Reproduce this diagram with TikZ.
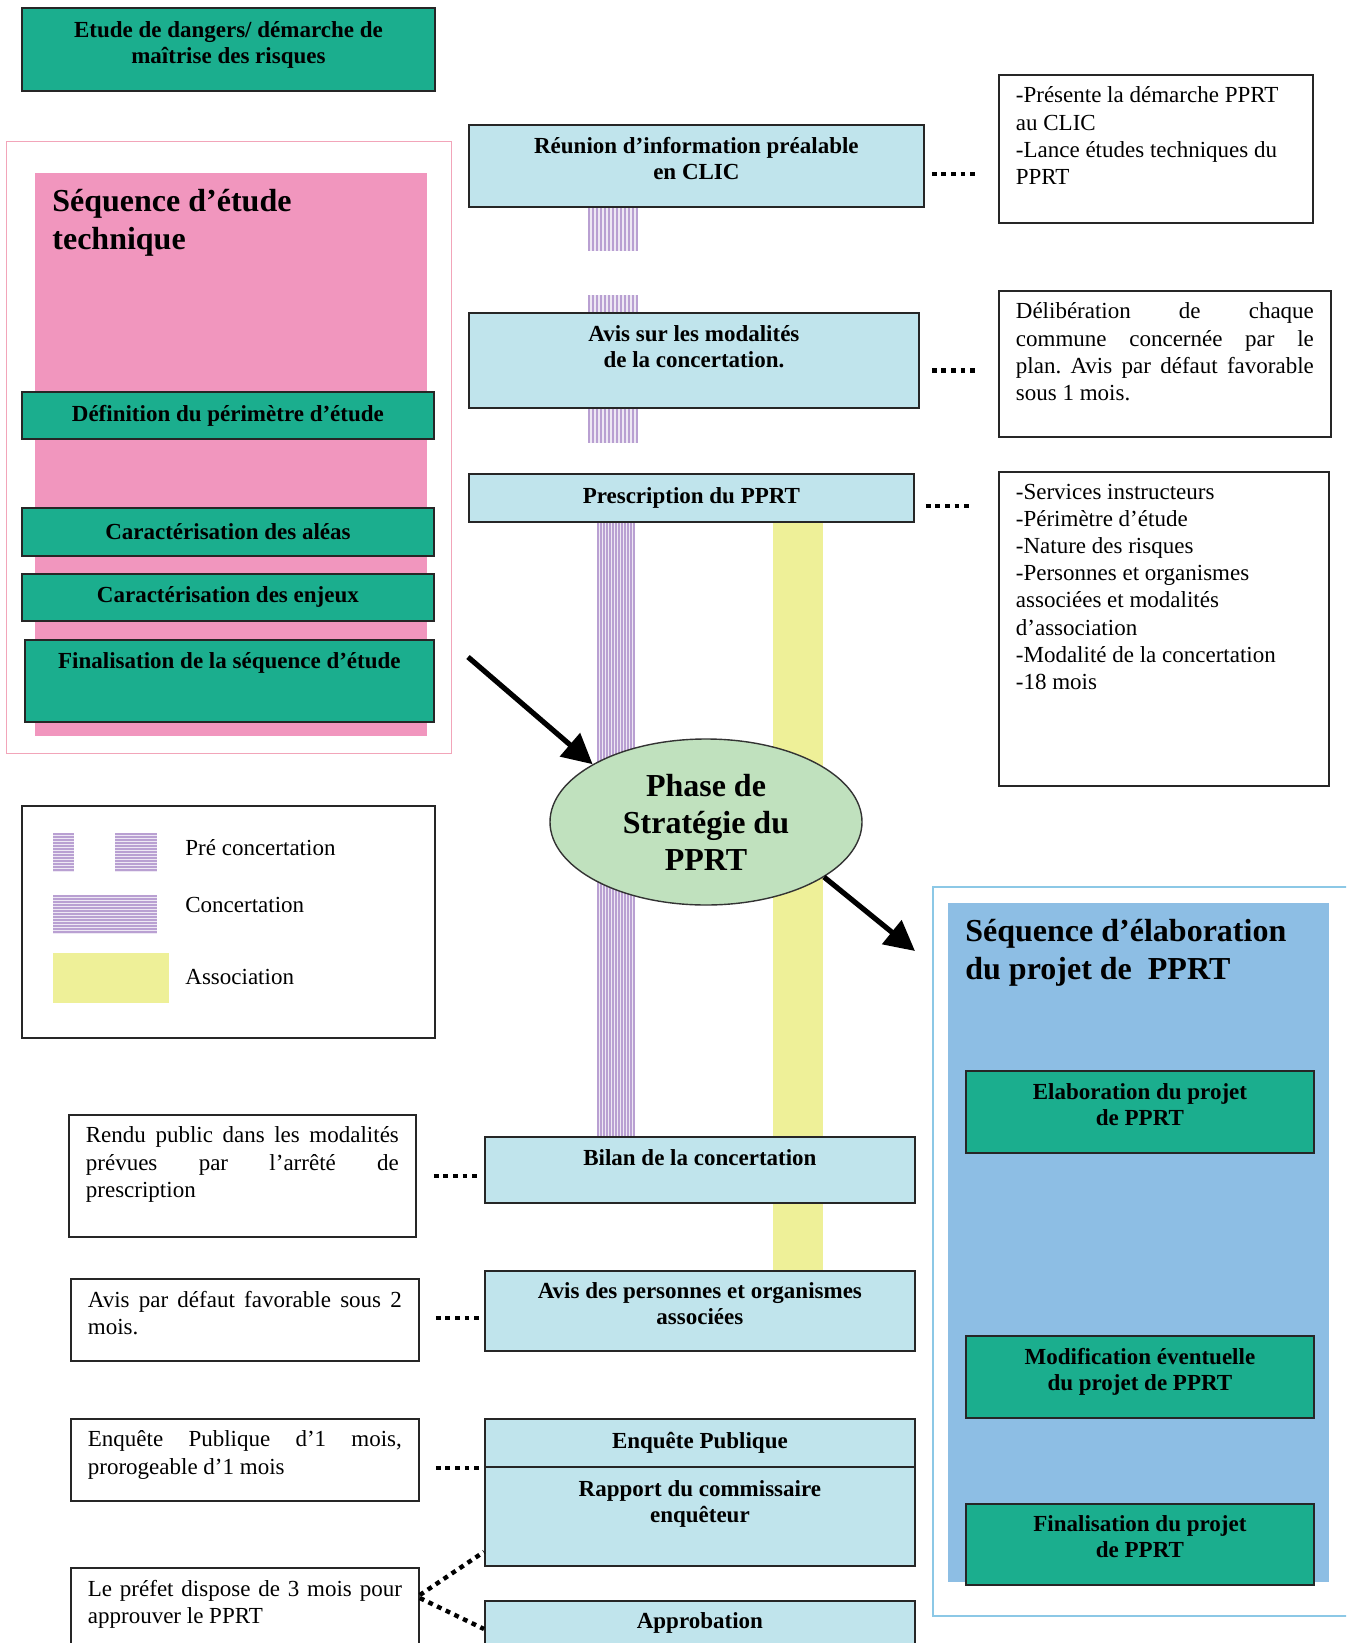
\documentclass[tikz,border=0pt]{standalone}
\usepackage{fontspec}
\setmainfont{Liberation Serif}
\usepackage{tikz}
\usetikzlibrary{calc,shapes.geometric,arrows.meta}
\frenchspacing

\definecolor{vertboite}{RGB}{27,174,142}
\definecolor{bleuclair}{RGB}{192,228,236}
\definecolor{rose}{RGB}{241,150,190}
\definecolor{rosetrait}{RGB}{242,165,185}
\definecolor{vertpale}{RGB}{192,225,190}
\definecolor{jaune}{RGB}{238,240,152}
\definecolor{bleuseq}{RGB}{141,190,228}
\definecolor{bleutrait}{RGB}{140,200,230}
\definecolor{mauve}{RGB}{185,160,210}
\definecolor{mauvepale}{RGB}{238,232,244}

\begin{document}
\begin{tikzpicture}[x=0.5pt,y=-0.5pt,>={Triangle[length=15pt,width=15pt]},
  boite/.style={draw=black!85,line width=0.9pt,anchor=north west,inner sep=0pt,align=center,font=\fontsize{11.5}{13}\selectfont\bfseries},
  verte/.style={boite,fill=vertboite},
  bleue/.style={boite,fill=bleuclair},
  note/.style={draw=black!85,line width=0.9pt,anchor=north west,inner xsep=8.5pt,inner ysep=6pt,font=\fontsize{11.5}{13.6}\selectfont},
  titre/.style={anchor=north west,inner sep=0pt,align=left,font=\fontsize{16}{19}\selectfont\bfseries},
  legtxt/.style={anchor=west,inner sep=0pt,font=\fontsize{11.5}{13}\selectfont},
  pointille/.style={line width=2.2pt,dash pattern=on 2.4pt off 2.4pt},
  fleche/.style={->,line width=2.6pt},
  hachure/.style={mauve,line width=0.55pt}]

    \useasboundingbox (0,0) rectangle (1346,1643);
    \clip (0,0) rectangle (1346,1643);

	%Sequence d'etude technique
    \draw[rosetrait,line width=0.5pt] (6,142) rectangle (451,753);
    \fill[rose] (35,173) rectangle (427,736);
    \node[titre] (titreetude) at (52,189) {Séquence d’étude\\technique};

	%Sequence d'elaboration
    \draw[bleutrait,line width=0.8pt] (933,887) rectangle (1352,1616);
    \fill[bleuseq] (948,903) rectangle (1329,1582);
    \node[titre] (titreelab) at (965,919) {Séquence d’élaboration\\du projet de~~PPRT};

	%Bandes
    \fill[mauvepale] (588,206) rectangle (638,251);
    \fill[mauvepale] (588,295) rectangle (638,443);
    \foreach \x in {589,593,...,637}{
      \draw[hachure] (\x,206) -- (\x,251);
      \draw[hachure] (\x,295) -- (\x,443);
    }
    \fill[mauvepale] (597,521) rectangle (634,1136);
    \foreach \x in {598,601,...,634}
      \draw[hachure] (\x,521) -- (\x,1136);
    \fill[jaune] (773,521) rectangle (823,1270);

	%Boites de gauche
    \node[verte,minimum width=206.5pt,minimum height=41.5pt,text depth=7pt] (etude) at (21,7) {Etude de dangers/ démarche de\\maîtrise des risques};
    \node[verte,minimum width=206pt,minimum height=23.5pt] (perimetre) at (21,391) {Définition du périmètre d’étude};
    \node[verte,minimum width=206pt,minimum height=24pt] (aleas) at (21,507) {Caractérisation des aléas};
    \node[verte,minimum width=206pt,minimum height=23.5pt] (enjeux) at (21,573) {Caractérisation des enjeux};
    \node[verte,minimum width=204.5pt,minimum height=41pt,text depth=20pt] (finetude) at (24,639) {Finalisation de la séquence d’étude};

	%Boites du milieu
    \node[bleue,minimum width=227.5pt,minimum height=41pt,text depth=7.5pt] (reunion) at (468,124) {Réunion d’information préalable\\en CLIC};
    \node[bleue,minimum width=225pt,minimum height=47.5pt,text depth=13.5pt] (modalites) at (468,312) {Avis sur les modalités\\de la concertation.};
    \node[bleue,minimum width=222.5pt,minimum height=24pt] (prescription) at (468,473) {Prescription du PPRT};
    \node[bleue,minimum width=215pt,minimum height=33pt,text depth=12.5pt] (bilan) at (484,1136) {Bilan de la concertation};
    \node[bleue,minimum width=215pt,minimum height=40pt,text depth=7pt] (avispers) at (484,1270) {Avis des personnes et organismes\\associées};
    \node[bleue,minimum width=215pt,minimum height=24pt] (enquete) at (484,1418) {Enquête Publique};
    \node[bleue,minimum width=215pt,minimum height=49.5pt,text depth=14.5pt] (rapport) at (484,1466) {Rapport du commissaire\\enquêteur};
    \node[bleue,minimum width=215pt,minimum height=30pt,text depth=10.5pt] (approbation) at (484,1600) {Approbation};

	%Boites de droite
    \node[verte,minimum width=174pt,minimum height=41pt,text depth=7.5pt] (elaboration) at (965,1070) {Elaboration du projet\\de PPRT};
    \node[verte,minimum width=174pt,minimum height=41pt,text depth=7.5pt] (modification) at (965,1335) {Modification éventuelle\\du projet de PPRT};
    \node[verte,minimum width=174pt,minimum height=40.5pt,text depth=7.5pt] (finprojet) at (965,1503) {Finalisation du projet\\de PPRT};

	%Phase
    \node[ellipse,draw=black!80,line width=0.7pt,fill=vertpale,minimum width=156pt,minimum height=83pt,inner sep=0pt,align=center,font=\fontsize{16}{18.5}\selectfont\bfseries] (phase) at (706,822) {Phase de\\Stratégie du\\PPRT};

	%Notes de droite
    \node[note] (notereunion) at (998,74) {\parbox[c][62pt][t]{140pt}{-Présente la démarche PPRT\\au CLIC\\-Lance études techniques du\\PPRT}};
    \node[note] (notemodalites) at (998,290) {\parbox[c][61pt][t]{149pt}{Délibération de chaque\linebreak commune concernée par le\linebreak plan. Avis par défaut favorable\linebreak sous 1 mois.}};
    \node[note] (noteprescription) at (998,471) {\parbox[c][145pt][t]{148pt}{-Services instructeurs\\-Périmètre d’étude\\-Nature des risques\\-Personnes et organismes\\associées et modalités\\d’association\\-Modalité de la concertation\\-18 mois}};

	%Notes de gauche
    \node[note] (noterendu) at (68,1114) {\parbox[c][49pt][t]{156.5pt}{Rendu public dans les modalités\linebreak prévues par l’arrêté de\linebreak prescription}};
    \node[note] (noteavis) at (70,1278) {\parbox[c][29pt][t]{157pt}{Avis par défaut favorable sous 2\linebreak mois.}};
    \node[note] (noteenquete) at (70,1418) {\parbox[c][29pt][t]{157pt}{Enquête Publique d’1 mois,\linebreak prorogeable d’1 mois}};
    \node[note] (noteprefet) at (70,1567) {\parbox[c][34.5pt][t]{157pt}{Le préfet dispose de 3 mois pour\linebreak approuver le PPRT}};

	%Legende
    \node[draw=black!85,line width=0.9pt,anchor=north west,minimum width=206.5pt,minimum height=116pt,inner sep=0pt] (legende) at (21,805) {};
    \fill[mauvepale] (53,833) rectangle (74,872);
    \fill[mauvepale] (115,833) rectangle (157,872);
    \foreach \y in {834,837,...,871}{
      \draw[hachure] (53,\y) -- (74,\y);
      \draw[hachure] (115,\y) -- (157,\y);
    }
    \fill[mauvepale] (53,895) rectangle (157,934);
    \foreach \y in {896,899,...,933}
      \draw[hachure] (53,\y) -- (157,\y);
    \fill[jaune] (53,953) rectangle (169,1003);
    \node[legtxt] (legpre) at (185,848) {Pré concertation};
    \node[legtxt] (legconc) at (185,905) {Concertation};
    \node[legtxt] (legasso) at (185,977) {Association};

	%Pointilles
    \draw[pointille,shorten <=3.5pt,shorten >=9.5pt] ([yshift=-4pt]reunion.east) -- ([yshift=-4pt]reunion.east -| notereunion.west);
    \draw[pointille,shorten <=6pt,shorten >=9.5pt] ([yshift=-5pt]modalites.east) -- ([yshift=-5pt]modalites.east -| notemodalites.west);
    \draw[pointille,shorten <=5.5pt,shorten >=13pt] ([yshift=-4pt]prescription.east) -- ([yshift=-4pt]prescription.east -| noteprescription.west);
    \draw[pointille,shorten <=8.5pt,shorten >=2pt] ([yshift=-3pt]noterendu.east |- bilan.west) -- ([yshift=-3pt]bilan.west);
    \draw[pointille,shorten <=8pt,shorten >=1pt] ([yshift=-3.5pt]noteavis.east |- avispers.west) -- ([yshift=-3.5pt]avispers.west);
    \draw[pointille,shorten <=8pt,shorten >=1pt] (noteenquete.east |- enquete.south west) -- (enquete.south west);
    \draw[pointille] ($(noteprefet.north east)+(0,28)$) -- ($(rapport.south west)+(0,-15)$);
    \draw[pointille] ($(noteprefet.north east)+(0,31)$) -- ($(approbation.north west)+(0,29)$);

	%Fleches
    \coordinate (depart) at (468,657);
    \coordinate (arrivee) at (915,951);
    \draw[fleche] (depart) -- (phase.153);
    \draw[fleche] (phase.-25) -- (arrivee);

\end{tikzpicture}
\end{document}
